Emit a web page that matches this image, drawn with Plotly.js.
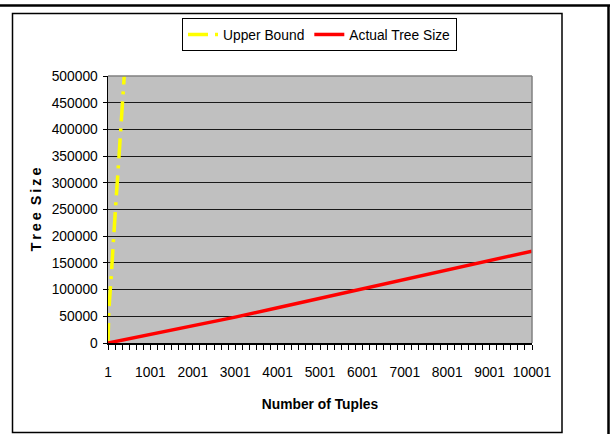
<!DOCTYPE html>
<html>
<head>
<meta charset="utf-8">
<script src="https://cdn.plot.ly/plotly-3.0.1.min.js"></script>
<style>
  html, body { margin: 0; padding: 0; background: #ffffff; }
  #chart { width: 610px; height: 434px; }
</style>
</head>
<body>
<div id="chart"></div>
<script>
// Number of tuples inserted vs. size of the resulting tree
const upperX = [1, 21, 71, 121, 191, 251, 311, 371, 421];
const upperY = [0, 62000, 118000, 172000, 268000, 338000, 412000, 485000, 545000];

const actualX = [1, 1001, 2001, 3001, 4001, 5001, 6001, 7001, 8001, 9001, 10001];
const actualY = [0, 16000, 32000, 48500, 66000, 83500, 100500, 118000, 136000, 154000, 172000];

const xTickVals = [1, 1001, 2001, 3001, 4001, 5001, 6001, 7001, 8001, 9001, 10001];
const xTickText = ['1', '1001', '2001', '3001', '4001', '5001', '6001', '7001', '8001', '9001', '10001'];
const yTickVals = [0, 50000, 100000, 150000, 200000, 250000, 300000, 350000, 400000, 450000, 500000];

const W = 610, H = 434;
const M = { l: 108, r: 78, t: 76, b: 91 };
const PW = W - M.l - M.r, PH = H - M.t - M.b;
// pixel -> paper coordinates for frame decorations
const px = v => (v - M.l) / PW;
const py = v => 1 - (v - M.t) / PH;

const FONT = 'Liberation Sans, Arial, sans-serif';

const traces = [
  {
    x: upperX, y: upperY, name: 'Upper Bound', type: 'scatter', mode: 'lines',
    line: { color: '#ffff00', width: 3.5, dash: '20px,7px,3px,7px' }
  },
  {
    x: actualX, y: actualY, name: 'Actual Tree Size', type: 'scatter', mode: 'lines',
    line: { color: '#ff0000', width: 3.5 }
  }
];

const shapes = [
  // outer chart frame
  { type: 'rect', xref: 'paper', yref: 'paper', x0: px(12.5), x1: px(562), y0: py(13.5), y1: py(432.5),
    line: { color: '#000000', width: 1.5 }, layer: 'below' },
  // page rules
  { type: 'line', xref: 'paper', yref: 'paper', x0: px(0), x1: px(610), y0: py(5.5), y1: py(5.5),
    line: { color: '#000000', width: 2.5 } },
  { type: 'line', xref: 'paper', yref: 'paper', x0: px(608.5), x1: px(608.5), y0: py(5.5), y1: py(434),
    line: { color: '#000000', width: 2.5 } },
  // plot area top and right edges
  { type: 'line', xref: 'paper', yref: 'paper', x0: 0, x1: 1, y0: 1, y1: 1,
    line: { color: '#808080', width: 1.5 } },
  { type: 'line', xref: 'paper', yref: 'paper', x0: 1, x1: 1, y0: 0, y1: 1,
    line: { color: '#808080', width: 1.5 } }
];

const layout = {
  width: W, height: H,
  margin: M,
  paper_bgcolor: '#ffffff',
  plot_bgcolor: '#c0c0c0',
  font: { family: FONT, size: 13.8, color: '#000000' },
  showlegend: true,
  legend: {
    orientation: 'h',
    xref: 'container', yref: 'container',
    x: 182 / W, y: 1 - 18 / H, xanchor: 'left', yanchor: 'top',
    bgcolor: '#ffffff', bordercolor: '#000000', borderwidth: 1,
    font: { family: FONT, size: 13.8, color: '#000000' }
  },
  xaxis: {
    type: 'linear', range: [1, 10001],
    tickmode: 'array', tickvals: xTickVals, ticktext: xTickText,
    ticks: 'outside', ticklen: 5, tickwidth: 1, tickcolor: '#000000',
    minor: { ticks: 'outside', tick0: 1, dtick: 1000 / 6, ticklen: 5, tickwidth: 1, tickcolor: '#000000', showgrid: false },
    ticklabelstandoff: 11,
    showline: true, linecolor: '#000000', linewidth: 1.5,
    showgrid: false, zeroline: false,
    tickfont: { family: FONT, size: 13.8 },
    title: { text: 'Number of Tuples', font: { family: FONT, size: 13.8, weight: 'bold' }, standoff: 20 }
  },
  yaxis: {
    range: [0, 500000],
    tickmode: 'array', tickvals: yTickVals,
    tickformat: 'd',
    ticks: 'outside', ticklen: 4, tickwidth: 1, tickcolor: '#000000',
    ticklabelstandoff: 2,
    showline: true, linecolor: '#000000', linewidth: 1.5,
    showgrid: true, gridcolor: '#1a1a1a', gridwidth: 1,
    zeroline: false,
    tickfont: { family: FONT, size: 13.8 },
    title: { text: 'T\u2009r\u2009e\u2009e\u2009 S\u2009i\u2009z\u2009e', font: { family: FONT, size: 14.5, weight: 'bold' }, standoff: 6 }
  },
  shapes: shapes
};

Plotly.newPlot('chart', traces, layout, { displayModeBar: false, staticPlot: true });
</script>
</body>
</html>
